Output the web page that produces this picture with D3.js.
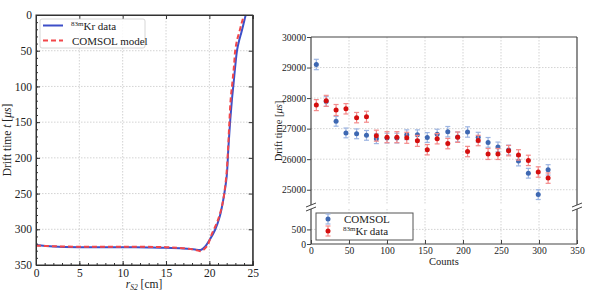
<!DOCTYPE html>
<html><head><meta charset="utf-8">
<script src="https://cdn.jsdelivr.net/npm/d3@7"></script>
<style>body{margin:0;background:#fff}svg{display:block}text{font-family:"Liberation Serif","DejaVu Serif",serif;fill:#222}</style>
</head><body><svg id="c" width="589" height="301"></svg>
<script>
// ---------- Left panel data ----------
const krR = [0, 2, 5, 8, 10, 13, 15, 17, 18.5, 19.0, 19.5, 20.07, 20.65, 21.2, 21.6, 22.0, 22.18, 22.38, 22.6, 22.8, 23.0, 23.2, 23.45, 23.7, 23.95, 24.15, 24.2];
const krT = [322, 324, 325, 325, 325, 325.5, 326, 327, 328.5, 329, 324.5, 314, 301, 282, 259, 226, 189, 152, 119, 95, 70, 49, 35, 24, 12, 2, 0];
const modelR = [0, 5, 10, 15, 17, 18.3, 19.0, 19.7, 20.3, 20.9, 21.3, 21.6, 21.95, 22.15, 22.3, 22.45, 22.65, 22.85, 22.98, 23.2, 23.45, 23.75, 24.0];
const modelT = [323, 324.5, 324.5, 325, 326.5, 328.5, 330.5, 324, 306, 290, 275, 259, 226, 189, 152, 119, 95, 70, 50, 35, 24, 10, 0];
const leftXTicks = [0, 5, 10, 15, 20, 25];
const leftYTicks = [0, 50, 100, 150, 200, 250, 300, 350];

// ---------- Right panel data ----------
const counts = [7, 20, 33, 46, 60, 73, 86, 100, 113, 126, 140, 153, 166, 180, 193, 206, 220, 233, 246, 260, 273, 286, 299, 312];
const comsol = [29100, 27890, 27240, 26860, 26830, 26780, 26670, 26690, 26690, 26800, 26800, 26710, 26820, 26900, 26730, 26890, 26720, 26550, 26400, 26300, 25940, 25540, 24840, 25650];
const comsolErr = [170, 160, 160, 160, 160, 160, 160, 160, 160, 160, 160, 160, 160, 170, 160, 170, 160, 160, 160, 160, 160, 160, 160, 170];
const krData = [27770, 27910, 27610, 27650, 27360, 27390, 26770, 26720, 26720, 26700, 26600, 26310, 26670, 26510, 26720, 26250, 26610, 26170, 26170, 26280, 26140, 25960, 25580, 25380];
const krErr = [180, 180, 180, 170, 170, 180, 180, 180, 180, 180, 180, 170, 170, 170, 170, 170, 170, 180, 180, 170, 170, 170, 170, 170];
const rightXTicks = [0, 50, 100, 150, 200, 250, 300, 350];
const upperYTicks = [25000, 26000, 27000, 28000, 29000, 30000];
const lowerYTicks = [0, 500];

const svg = d3.select("#c");
const FS = "11.5px";
const FSR = "9.6px";
const SERIF = '"Liberation Serif","DejaVu Serif",serif';

// ================= LEFT =================
const xL = d3.scaleLinear([0, 25], [36, 252.7]);
const yL = d3.scaleLinear([0, 350], [15, 265]);
const gL = svg.append("g");
gL.selectAll(".gx").data(leftXTicks.slice(1, -1)).join("line")
  .attr("x1", d => xL(d)).attr("x2", d => xL(d)).attr("y1", yL(0)).attr("y2", yL(350))
  .attr("stroke", "#c8c8c8").attr("stroke-width", 0.8).attr("stroke-dasharray", "1.5,1.5");
gL.selectAll(".gy").data(leftYTicks.slice(1, -1)).join("line")
  .attr("y1", d => yL(d)).attr("y2", d => yL(d)).attr("x1", xL(0)).attr("x2", xL(25))
  .attr("stroke", "#c8c8c8").attr("stroke-width", 0.8).attr("stroke-dasharray", "1.5,1.5");

const lineL = (R, T) => d3.line().x((d, i) => xL(R[i])).y((d, i) => yL(T[i])).curve(d3.curveCatmullRom)(R);
gL.append("path").attr("d", lineL(krR, krT)).attr("fill", "none").attr("stroke", "#3d4fc8").attr("stroke-width", 2);
gL.append("path").attr("d", lineL(modelR, modelT)).attr("fill", "none").attr("stroke", "#f2474a").attr("stroke-width", 2).attr("stroke-dasharray", "5,3");

gL.append("g").attr("transform", `translate(0,${yL(350)})`).call(d3.axisBottom(xL).tickValues(leftXTicks).tickSize(-4).tickPadding(4));
gL.append("g").attr("transform", `translate(0,${yL(350)})`).call(d3.axisBottom(xL).tickValues(d3.range(0, 26, 1)).tickSize(-2).tickFormat(""));
gL.append("g").attr("transform", `translate(${xL(0)},0)`).call(d3.axisLeft(yL).tickValues(leftYTicks).tickSize(-4).tickPadding(4));
gL.append("g").attr("transform", `translate(${xL(0)},0)`).call(d3.axisLeft(yL).tickValues(d3.range(0, 351, 10)).tickSize(-2).tickFormat(""));
gL.append("g").attr("transform", `translate(0,${yL(0)})`).call(d3.axisTop(xL).tickValues(leftXTicks).tickSize(-4).tickFormat(""));
gL.append("g").attr("transform", `translate(${xL(25)},0)`).call(d3.axisRight(yL).tickValues(leftYTicks).tickSize(-4).tickFormat(""));
gL.selectAll("g").attr("font-family", SERIF);
gL.selectAll(".domain").attr("stroke", "#333");
gL.selectAll(".tick line").attr("stroke", "#333");
gL.selectAll(".tick text").style("font-size", FS).style("font-family", SERIF).attr("fill", "#222");
gL.append("rect").attr("x", xL(0)).attr("y", yL(0)).attr("width", xL(25) - xL(0)).attr("height", yL(350) - yL(0))
  .attr("fill", "none").attr("stroke", "#333").attr("stroke-width", 1);

const xlab = gL.append("text").attr("x", 144).attr("y", 288).attr("text-anchor", "middle").style("font-size", "11.5px");
xlab.append("tspan").text("r").style("font-style", "italic");
xlab.append("tspan").text("S2").style("font-style", "italic").style("font-size", "7.5px").attr("dy", 2);
xlab.append("tspan").text(" [cm]").attr("dy", -2);
const ylab = gL.append("text").attr("transform", "translate(11,140) rotate(-90)").attr("text-anchor", "middle").style("font-size", "11.5px");
ylab.append("tspan").text("Drift time ");
ylab.append("tspan").text("t").style("font-style", "italic");
ylab.append("tspan").text(" [");
ylab.append("tspan").text("μs").style("font-style", "italic");
ylab.append("tspan").text("]");

const lg = gL.append("g");
lg.append("rect").attr("x", 40).attr("y", 19).attr("width", 105).attr("height", 29).attr("rx", 2)
  .attr("fill", "#fff").attr("fill-opacity", 0.85).attr("stroke", "#ccc").attr("stroke-width", 0.8);
lg.append("line").attr("x1", 43).attr("x2", 63).attr("y1", 25.5).attr("y2", 25.5).attr("stroke", "#3d4fc8").attr("stroke-width", 2);
lg.append("line").attr("x1", 43).attr("x2", 63).attr("y1", 40.5).attr("y2", 40.5).attr("stroke", "#f2474a").attr("stroke-width", 2).attr("stroke-dasharray", "5,3");
const l1 = lg.append("text").attr("x", 71).attr("y", 29.5).style("font-size", "11px");
l1.append("tspan").text("83m").style("font-size", "7px").attr("dy", -4);
l1.append("tspan").text("Kr data").attr("dy", 4);
lg.append("text").attr("x", 72).attr("y", 44.5).style("font-size", "11px").text("COMSOL model");

// ================= RIGHT =================
const xR = d3.scaleLinear([0, 350], [311, 577]);
const yU = d3.scaleLinear([24500, 30000], [205, 37]);
const yLo = d3.scaleLinear([0, 1200], [244, 209]);
const gR = svg.append("g");
const gridStyle = s => s.attr("stroke", "#c8c8c8").attr("stroke-width", 0.8).attr("stroke-dasharray", "1.5,1.5");
gR.selectAll(".gxu").data(rightXTicks.slice(1, -1)).join("line")
  .attr("x1", d => xR(d)).attr("x2", d => xR(d)).attr("y1", yU(30000)).attr("y2", yU(24500)).call(gridStyle);
gR.selectAll(".gxl").data(rightXTicks.slice(1, -1)).join("line")
  .attr("x1", d => xR(d)).attr("x2", d => xR(d)).attr("y1", yLo(1200)).attr("y2", yLo(0)).call(gridStyle);
gR.selectAll(".gyu").data(upperYTicks.slice(0, -1)).join("line")
  .attr("x1", xR(0)).attr("x2", xR(350)).attr("y1", d => yU(d)).attr("y2", d => yU(d)).call(gridStyle);
gR.selectAll(".gyl").data([500]).join("line")
  .attr("x1", xR(0)).attr("x2", xR(350)).attr("y1", d => yLo(d)).attr("y2", d => yLo(d)).call(gridStyle);

const fmt = d3.format("d");
gR.append("g").attr("transform", `translate(0,${yLo(0)})`).call(d3.axisBottom(xR).tickValues(rightXTicks).tickFormat(fmt).tickSize(-4).tickPadding(3));
gR.append("g").attr("transform", `translate(${xR(0)},0)`).call(d3.axisLeft(yU).tickValues(upperYTicks).tickFormat(fmt).tickSize(4).tickPadding(1));
gR.append("g").attr("transform", `translate(${xR(0)},0)`).call(d3.axisLeft(yLo).tickValues(lowerYTicks).tickFormat(fmt).tickSize(4).tickPadding(1));
gR.selectAll("g").attr("font-family", SERIF);
gR.selectAll(".domain").remove();
gR.selectAll(".tick line").attr("stroke", "#444");
gR.selectAll(".tick text").style("font-size", FSR).style("font-family", SERIF).attr("fill", "#222");
const sp = s => s.attr("stroke", "#444").attr("stroke-width", 1.2);
gR.append("line").attr("x1", xR(0)).attr("x2", xR(350)).attr("y1", yU(30000)).attr("y2", yU(30000)).call(sp);
gR.append("line").attr("x1", xR(0)).attr("x2", xR(350)).attr("y1", yLo(0)).attr("y2", yLo(0)).call(sp);
[0, 350].forEach(v => {
  gR.append("line").attr("x1", xR(v)).attr("x2", xR(v)).attr("y1", yU(30000)).attr("y2", yU(24500)).call(sp);
  gR.append("line").attr("x1", xR(v)).attr("x2", xR(v)).attr("y1", yLo(1200)).attr("y2", yLo(0)).call(sp);
  [yU(24500), yLo(1200)].forEach(y => {
    gR.append("line").attr("x1", xR(v) - 5).attr("x2", xR(v) + 5).attr("y1", y + 2).attr("y2", y - 2)
      .attr("stroke", "#444").attr("stroke-width", 1);
  });
});

const drawSeries = (vals, errs, cBar, cDot) => {
  const g = gR.append("g");
  counts.forEach((c, i) => {
    const x = xR(c), y0 = yU(vals[i] - errs[i]), y1 = yU(vals[i] + errs[i]);
    g.append("line").attr("x1", x).attr("x2", x).attr("y1", y0).attr("y2", y1).attr("stroke", cBar).attr("stroke-width", 1.2);
    g.append("line").attr("x1", x - 2.5).attr("x2", x + 2.5).attr("y1", y0).attr("y2", y0).attr("stroke", cBar).attr("stroke-width", 1.2);
    g.append("line").attr("x1", x - 2.5).attr("x2", x + 2.5).attr("y1", y1).attr("y2", y1).attr("stroke", cBar).attr("stroke-width", 1.2);
    g.append("circle").attr("cx", x).attr("cy", yU(vals[i])).attr("r", 2.5).attr("fill", cDot);
  });
};
drawSeries(comsol, comsolErr, "#9db5e2", "#3e68b2");
drawSeries(krData, krErr, "#f38a8a", "#d40f0f");

const lg2 = gR.append("g");
lg2.append("rect").attr("x", 316).attr("y", 213).attr("width", 97).attr("height", 27)
  .attr("fill", "#fff").attr("stroke", "#555").attr("stroke-width", 1);
const legMark = (y, cBar, cDot) => {
  lg2.append("line").attr("x1", 328).attr("x2", 328).attr("y1", y - 5).attr("y2", y + 5).attr("stroke", cBar).attr("stroke-width", 1.2);
  lg2.append("line").attr("x1", 325.5).attr("x2", 330.5).attr("y1", y - 5).attr("y2", y - 5).attr("stroke", cBar).attr("stroke-width", 1.2);
  lg2.append("line").attr("x1", 325.5).attr("x2", 330.5).attr("y1", y + 5).attr("y2", y + 5).attr("stroke", cBar).attr("stroke-width", 1.2);
  lg2.append("circle").attr("cx", 328).attr("cy", y).attr("r", 2.5).attr("fill", cDot);
};
legMark(219, "#9db5e2", "#3e68b2");
legMark(231, "#f38a8a", "#d40f0f");
lg2.append("text").attr("x", 344).attr("y", 223).style("font-size", "11px").text("COMSOL");
const l2 = lg2.append("text").attr("x", 343).attr("y", 235).style("font-size", "11px");
l2.append("tspan").text("83m").style("font-size", "7px").attr("dy", -4);
l2.append("tspan").text("Kr data").attr("dy", 4);

gR.append("text").attr("x", 444).attr("y", 265).attr("text-anchor", "middle").style("font-size", "10.5px").text("Counts");
const yl2 = gR.append("text").attr("transform", "translate(282,131) rotate(-90)").attr("text-anchor", "middle").style("font-size", "10.5px");
yl2.append("tspan").text("Drift time [");
yl2.append("tspan").text("μs").style("font-style", "italic");
yl2.append("tspan").text("]");
</script></body></html>
